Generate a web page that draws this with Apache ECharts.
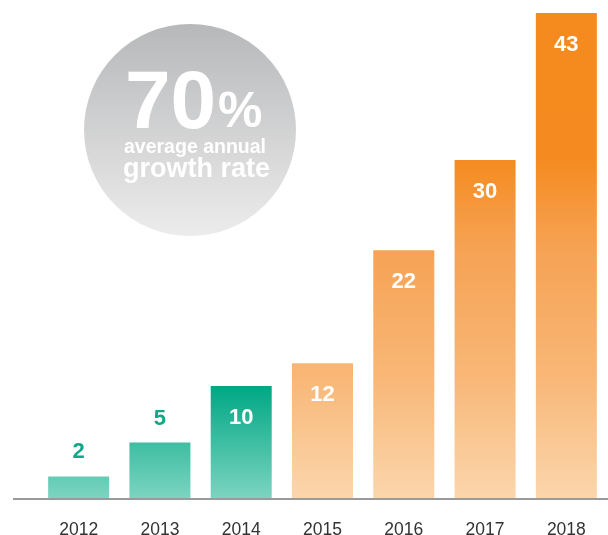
<!DOCTYPE html>
<html>
<head>
<meta charset="utf-8">
<script src="https://cdn.jsdelivr.net/npm/echarts@6/dist/echarts.min.js"></script>
<style>
  html, body { margin: 0; padding: 0; background: #fff; }
  #chart { width: 608px; height: 535px; }
</style>
</head>
<body>
<div id="chart"></div>
<script>
const years = ['2012', '2013', '2014', '2015', '2016', '2017', '2018'];
const values = [2, 5, 10, 12, 22, 30, 43];
// first three years are the green group, the rest orange
const groups = ['green', 'green', 'green', 'orange', 'orange', 'orange', 'orange'];
// small bars carry their label above the bar
const labelOutside = [true, true, false, false, false, false, false];

const FONT = '"Liberation Sans", Arial, Helvetica, sans-serif';
const GRID_TOP = 13, GRID_BOTTOM = 36, H = 535;
const baseY = H - GRID_BOTTOM;

const orangeFill = new echarts.graphic.LinearGradient(0, GRID_TOP, 0, baseY, [
  { offset: 0, color: '#f58a1f' },
  { offset: 0.3, color: '#f58b20' },
  { offset: 0.48, color: '#f6a253' },
  { offset: 0.74, color: '#f8b675' },
  { offset: 1, color: '#fbd6ad' }
], true);
const greenFill = new echarts.graphic.LinearGradient(0, 387, 0, baseY, [
  { offset: 0, color: '#00a884' },
  { offset: 1, color: '#7dd4c1' }
], true);

const barData = values.map((v, i) => ({
  value: v,
  itemStyle: { color: groups[i] === 'green' ? greenFill : orangeFill },
  label: labelOutside[i]
    ? { position: 'top', distance: 13, color: '#10a888' }
    : { position: 'insideTop', distance: 21, color: '#ffffff' }
}));

const chart = echarts.init(document.getElementById('chart'), null, { renderer: 'canvas' });
chart.setOption({
  animation: false,
  grid: {
    left: 38, right: 1, top: GRID_TOP, bottom: GRID_BOTTOM,
    containLabel: false, outerBoundsMode: 'none'
  },
  xAxis: {
    type: 'category',
    data: years,
    axisLine: { show: false },
    axisTick: { show: false },
    axisLabel: { color: '#333', fontSize: 17.5, fontFamily: FONT, margin: 22 }
  },
  yAxis: {
    type: 'value',
    min: 0,
    max: 43,
    show: false
  },
  series: [{
    type: 'bar',
    data: barData,
    barWidth: 61,
    label: { show: true, fontSize: 22, fontWeight: 'bold', fontFamily: FONT },
    z: 2
  }],
  graphic: [
    // baseline rule, running past the first bar to the left
    {
      type: 'rect', z: 10,
      shape: { x: 13, y: baseY - 1, width: 595, height: 2 },
      style: { fill: '#9a9a9a' }
    },
    // growth-rate badge
    {
      type: 'circle', z: 1,
      shape: { cx: 190, cy: 130, r: 106 },
      style: {
        fill: new echarts.graphic.LinearGradient(0, 0, 0, 1, [
          { offset: 0, color: '#b7b8ba' },
          { offset: 1, color: '#ececec' }
        ])
      }
    },
    {
      type: 'text', z: 3, left: 125, top: 64,
      style: { text: '70', fill: '#fff', font: 'bold 82px ' + FONT }
    },
    {
      type: 'text', z: 3, left: 218, top: 88,
      style: { text: '%', fill: '#fff', font: 'bold 50px ' + FONT }
    },
    {
      type: 'text', z: 3, left: 124, top: 138,
      style: { text: 'average annual', fill: '#fff', font: 'bold 19.5px ' + FONT }
    },
    {
      type: 'text', z: 3, left: 123, top: 156,
      style: { text: 'growth rate', fill: '#fff', font: 'bold 27px ' + FONT }
    }
  ]
});
</script>
</body>
</html>
